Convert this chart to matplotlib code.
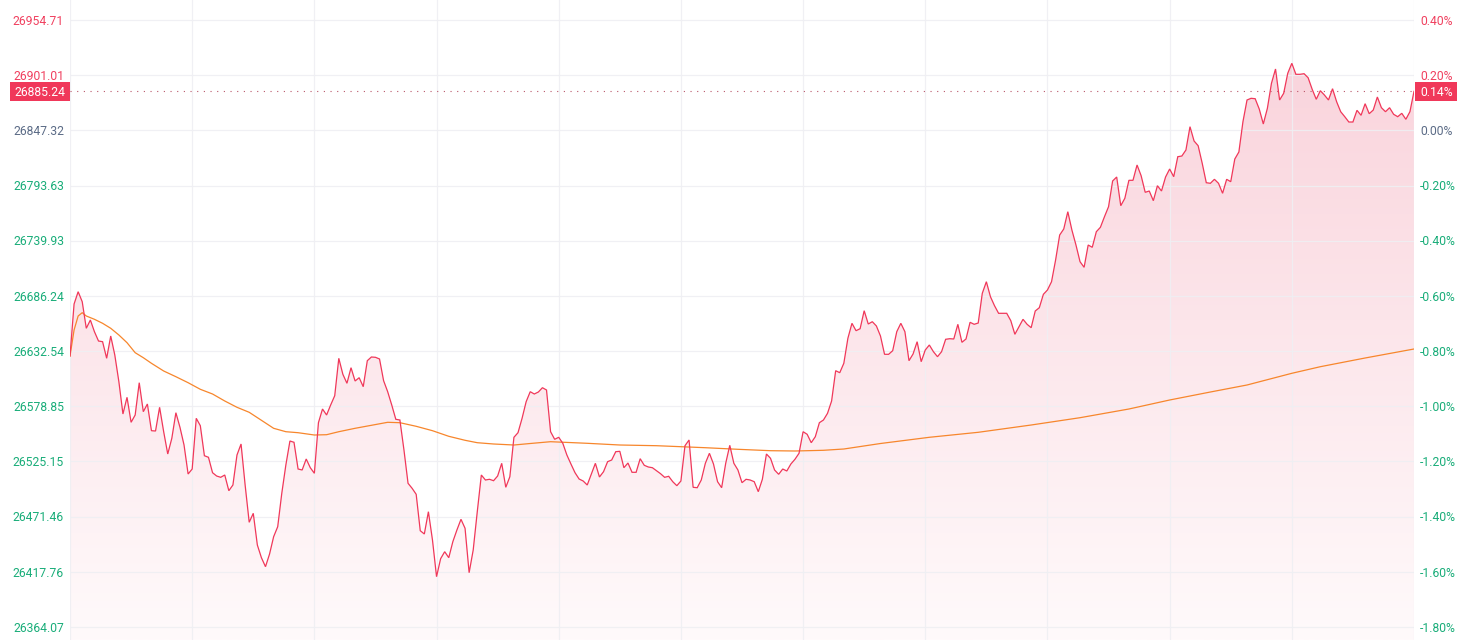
import numpy as np
import matplotlib
matplotlib.use("Agg")
import matplotlib.pyplot as plt
from matplotlib.patches import Polygon, Rectangle
from matplotlib.colors import LinearSegmentedColormap

plt.rcParams['font.family'] = ['Roboto', 'DejaVu Sans']

# ---------------- data ----------------
prev_close = 26847.32
last_price = 26885.24

# one value per trading minute (09:30-12:00, 13:00-16:00)
price = [
    26627.76, 26678.36, 26690.33, 26680.60, 26654.72, 26662.79, 26651.41, 26642.36, 26641.68, 26625.53,
    26647.23, 26628.74, 26602.76, 26571.33, 26587.58, 26563.25, 26570.35, 26601.78, 26573.57, 26581.06,
    26555.08, 26554.78, 26577.85, 26554.10, 26532.41, 26547.68, 26572.59, 26558.39, 26541.16, 26512.94,
    26517.81, 26567.14, 26559.94, 26530.75, 26529.19, 26514.21, 26511.00, 26509.73, 26511.97, 26496.69,
    26502.24, 26531.43, 26542.14, 26502.24, 26465.95, 26474.70, 26443.86, 26431.50, 26422.74, 26435.10,
    26451.93, 26461.66, 26494.16, 26521.70, 26545.05, 26543.79, 26517.81, 26516.84, 26527.54, 26519.07,
    26513.63, 26562.86, 26576.19, 26570.35, 26580.08, 26589.13, 26625.53, 26609.96, 26601.20, 26616.38,
    26603.44, 26606.65, 26597.89, 26623.19, 26626.79, 26626.50, 26624.85, 26603.73, 26593.03, 26580.08,
    26566.17, 26565.49, 26536.30, 26503.90, 26499.03, 26493.19, 26457.77, 26454.56, 26476.26, 26448.72,
    26413.01, 26430.53, 26437.34, 26431.50, 26447.07, 26458.45, 26468.87, 26460.11, 26416.90, 26438.99,
    26476.26, 26511.97, 26507.11, 26507.79, 26506.43, 26511.00, 26523.36, 26500.00, 26510.32, 26548.66,
    26553.13, 26567.14, 26583.30, 26593.03, 26590.79, 26592.73, 26596.92, 26594.68, 26554.10, 26546.71,
    26548.66, 26542.82, 26531.43, 26522.67, 26514.21, 26508.08, 26506.13, 26502.24, 26512.94, 26523.36,
    26510.03, 26515.18, 26524.91, 26526.57, 26534.64, 26535.03, 26519.07, 26523.65, 26514.60, 26514.60,
    26527.83, 26521.41, 26519.76, 26519.07, 26516.16, 26513.24, 26509.73, 26510.70, 26505.45, 26501.56,
    26506.13,
    26540.48, 26546.03, 26500.00, 26499.61, 26507.11, 26523.36, 26533.09, 26522.67, 26505.45,
    26499.61, 26523.36, 26540.87, 26523.36, 26516.84, 26504.48, 26507.79, 26507.11, 26505.45, 26495.72,
    26507.79, 26532.41, 26528.22, 26516.84, 26512.65, 26517.81, 26515.86, 26522.67, 26527.25, 26533.09,
    26554.10, 26551.57, 26543.40, 26549.24, 26562.86, 26565.49, 26572.01, 26583.98, 26613.46, 26611.51,
    26620.66, 26644.99, 26659.58, 26652.38, 26654.33, 26671.84, 26658.90, 26661.14, 26656.96, 26647.23,
    26629.42, 26629.42, 26632.92, 26651.41, 26659.58, 26651.41, 26623.19, 26629.71, 26641.68, 26622.22,
    26633.60, 26638.47, 26631.95, 26627.08, 26631.95, 26644.01, 26644.60, 26644.31, 26658.61, 26641.09,
    26644.31, 26660.56, 26658.61, 26659.87, 26688.77, 26700.06, 26685.47, 26676.71, 26669.31, 26669.31,
    26669.31, 26662.11, 26648.88, 26656.27, 26663.48, 26658.61, 26655.30, 26671.55, 26674.76, 26687.80,
    26691.99, 26700.06, 26721.18, 26745.50, 26751.34, 26768.18, 26750.37, 26735.77, 26719.52, 26714.07,
    26735.77, 26733.53, 26748.71, 26753.00, 26763.31, 26773.04, 26798.05, 26801.94, 26774.01, 26781.21,
    26798.73, 26798.73, 26813.62, 26803.21, 26787.05, 26788.32, 26778.88, 26793.47, 26788.32, 26801.94,
    26809.72, 26802.23, 26821.69, 26822.37, 26828.21, 26850.88, 26836.97, 26832.40, 26815.27, 26796.39,
    26795.81, 26799.70, 26795.81, 26786.08, 26799.70, 26797.37, 26819.46, 26826.27, 26855.75, 26876.87,
    26878.52, 26878.13, 26868.11, 26853.51, 26868.79, 26893.11, 26907.03, 26876.87, 26883.38, 26902.85,
    26912.58, 26901.87, 26901.87, 26902.46, 26898.56, 26887.28, 26877.55, 26885.91, 26881.73, 26876.87,
    26887.86, 26875.21, 26865.48, 26860.62, 26855.46, 26855.46, 26866.84, 26861.98, 26873.26, 26863.53,
    26867.13, 26879.78, 26869.37, 26865.48, 26869.37, 26862.95, 26860.62, 26863.92, 26858.09, 26865.48,
    26885.24,
]

# average-price line, read at selected minutes
avg_idx = [0, 1, 2, 3, 4, 6, 8, 10, 12, 14, 16, 18, 20, 23, 26, 29, 32, 35, 38, 41, 44, 47, 50, 53,
           56, 60, 63, 66, 70, 74, 78, 81, 85, 89, 93, 97, 100, 104, 109, 113, 118, 127, 135, 144,
           150, 156, 164, 172, 178, 185, 190, 199, 211, 223, 236, 248, 260, 270, 280, 289, 300,
           307, 318, 330]
avg_val = [26627.76, 26653.06, 26666.69, 26669.90, 26666.69, 26663.48, 26659.58, 26654.72, 26648.20,
           26640.71, 26630.98, 26626.11, 26620.66, 26613.17, 26607.62, 26601.78, 26595.36, 26590.79,
           26583.98, 26577.85, 26572.98, 26565.20, 26557.41, 26554.10, 26553.13, 26550.89, 26551.18,
           26554.10, 26557.41, 26560.33, 26563.25, 26562.86, 26559.36, 26555.08, 26549.63, 26545.74,
           26543.40, 26542.14, 26541.16, 26542.62, 26544.37, 26542.82, 26541.16, 26540.48, 26539.51,
           26538.53, 26536.98, 26535.62, 26535.33, 26536.01, 26537.27, 26542.62, 26548.66, 26553.52,
           26560.62, 26567.73, 26576.19, 26584.95, 26592.73, 26599.55, 26610.93, 26617.35, 26625.82,
           26634.58]

left_ticks = [26954.71, 26901.01, 26847.32, 26793.63, 26739.93, 26686.24, 26632.54, 26578.85,
              26525.15, 26471.46, 26417.76, 26364.07]
right_labels = ["0.40%", "0.20%", "0.00%", "-0.20%", "-0.40%", "-0.60%", "-0.80%", "-1.00%",
                "-1.20%", "-1.40%", "-1.60%", "-1.80%"]
last_label_pct = "0.14%"
n_minutes = 330
grid_every = 30

# ---------------- styling ----------------
RED = '#f0385a'
UP = '#f0405f'
FLAT = '#5b6b86'
DOWN = '#19ad79'
ORANGE = '#f7862c'
GRID = '#efeff3'

W, H = 1465, 640
fig = plt.figure(figsize=(W / 100, H / 100), dpi=100)
ax_left, ax_right = 70, 1414
ax = fig.add_axes([ax_left / W, 0, (ax_right - ax_left) / W, 1])

# y-scale: top tick at 20 px, bottom tick at 627 px from the top
px_per_val = (627 - 20) / (left_ticks[0] - left_ticks[-1])
ytop = left_ticks[0] + 20 / px_per_val
ybot = left_ticks[-1] - (H - 627) / px_per_val
ax.set_xlim(0, n_minutes)
ax.set_ylim(ybot, ytop)
ax.axis('off')

x = np.arange(len(price))
price_arr = np.array(price)

# gradient fill under the line
cmap = LinearSegmentedColormap.from_list('g', ['#fffafb', '#f9d0d9'])
grad = np.linspace(0, 1, 256).reshape(-1, 1)
im = ax.imshow(grad, extent=[0, n_minutes, ybot, ytop], origin='lower', cmap=cmap,
               aspect='auto', zorder=0, interpolation='bilinear')
verts = [(0, ybot)] + list(zip(x, price_arr)) + [(x[-1], ybot)]
poly = Polygon(verts, closed=True, facecolor='none', edgecolor='none')
ax.add_patch(poly)
im.set_clip_path(poly)

# grid
for t in left_ticks:
    ax.axhline(t, color=GRID, lw=0.9, zorder=1, alpha=0.9)
for gx in range(0, n_minutes + 1, grid_every):
    ax.axvline(gx, color=GRID, lw=0.9, zorder=1, alpha=0.9)

# lines
ax.plot(x, price_arr, color=RED, lw=0.9, zorder=4, solid_joinstyle='miter')
ax.plot(avg_idx, avg_val, color=ORANGE, lw=0.9, zorder=3)
ax.axhline(last_price, color='#b9566a', lw=0.8, linestyle=(0, (1, 5)), zorder=2)

# labels
def ypix(v):
    return ax.transData.transform((0, v))[1]

fs = 8.7
dy = -1.2  # small downward nudge so digits sit centred on the grid line
for t, lab in zip(left_ticks, right_labels):
    col = UP if t > prev_close + 0.01 else (FLAT if abs(t - prev_close) < 0.01 else DOWN)
    yp = ypix(t) + dy
    fig.text(64 / W, yp / H, f"{t:.2f}", ha='right', va='center', color=col, fontsize=fs)
    fig.text(1420 / W, yp / H, lab, ha='left', va='center', color=col, fontsize=fs)

yl = ypix(last_price)
fig.patches.append(Rectangle((10 / W, (yl - 9.5) / H), 60 / W, 19 / H, transform=fig.transFigure,
                             facecolor=RED, edgecolor='none', zorder=5))
fig.text(65 / W, (yl + dy) / H, f"{last_price:.2f}", ha='right', va='center', color='white',
         fontsize=fs, zorder=6)
fig.patches.append(Rectangle((1415 / W, (yl - 9.5) / H), 42 / W, 19 / H, transform=fig.transFigure,
                             facecolor=RED, edgecolor='none', zorder=5))
fig.text(1420 / W, (yl + dy) / H, last_label_pct, ha='left', va='center', color='white',
         fontsize=fs, zorder=6)

fig.savefig('out.png', dpi=100, facecolor='white')
